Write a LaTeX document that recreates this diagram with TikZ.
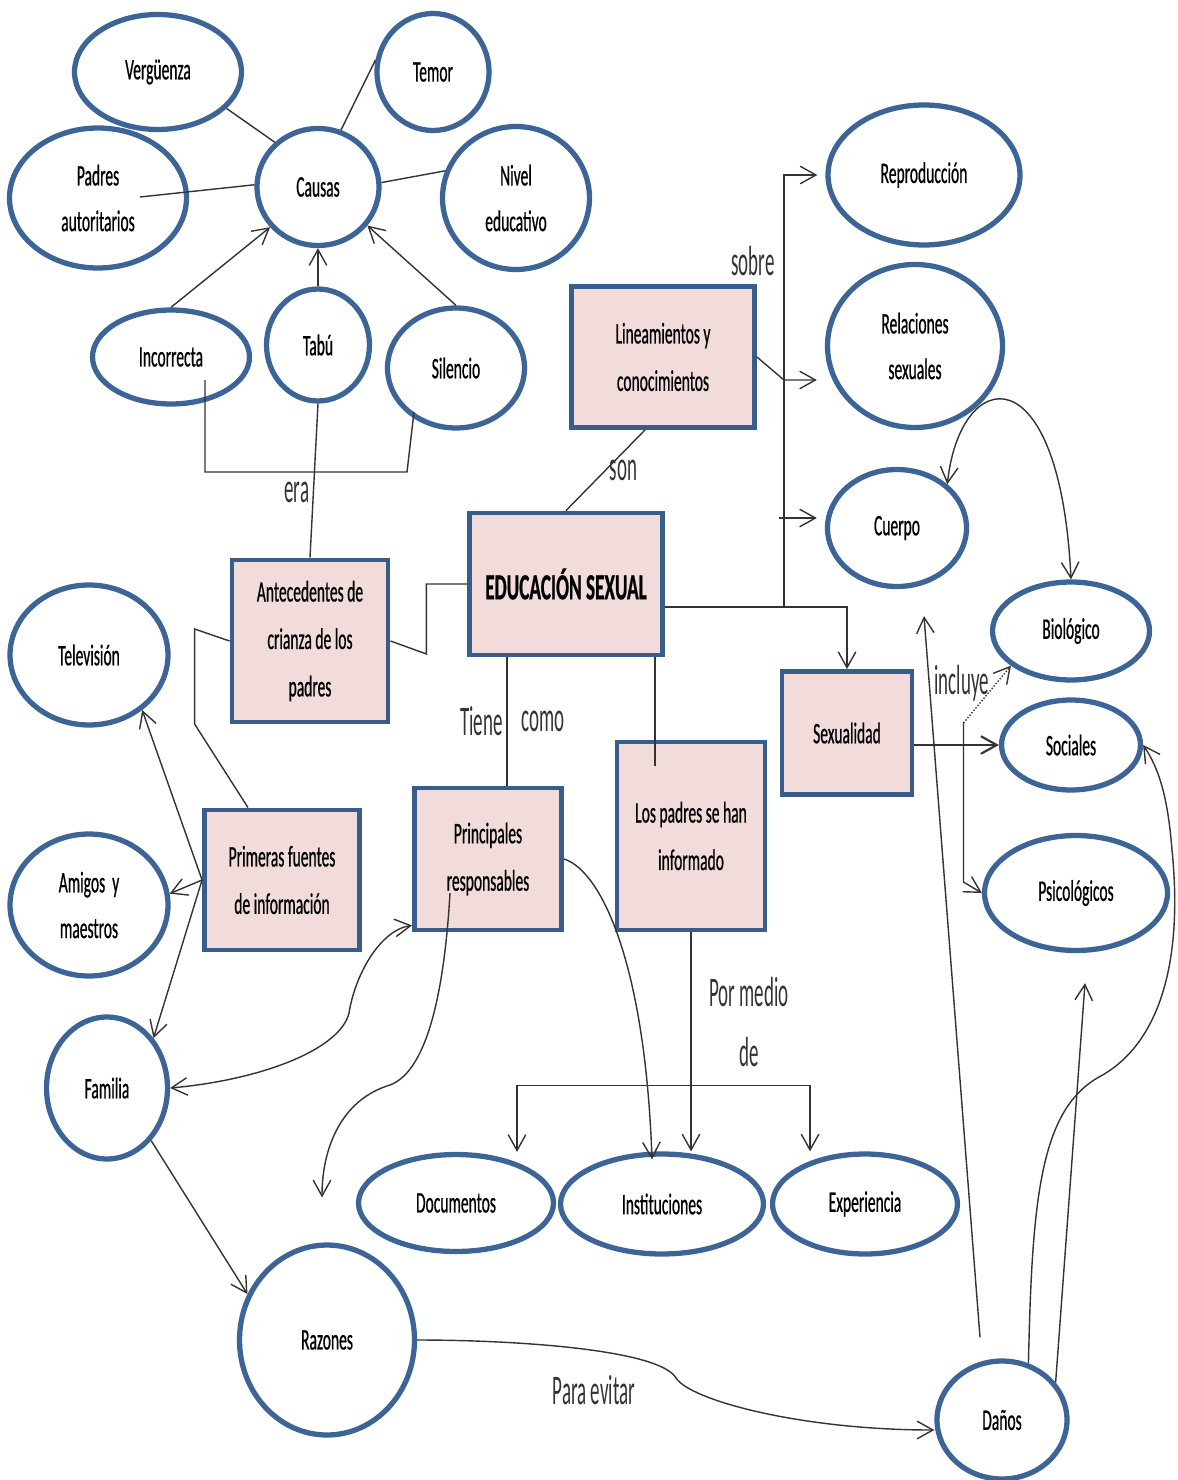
\documentclass[tikz,border=0pt]{standalone}
\usepackage{fontspec}
\setmainfont{Carlito}[FakeStretch=0.52, FakeBold=0.6]
\newfontfamily\lblfont{Carlito}[FakeStretch=0.45]
\usetikzlibrary{positioning, calc, shapes.geometric, arrows.meta}

\definecolor{elliblue}{RGB}{60,100,150}
\definecolor{cajablue}{RGB}{56,93,138}
\definecolor{cajapink}{RGB}{242,220,219}

\tikzset{
  elli/.style={ellipse, draw=elliblue, line width=3pt, fill=white, inner sep=0pt, align=center, font={\fontsize{17}{26}\selectfont}},
  caja/.style={rectangle, draw=cajablue, line width=2.8pt, fill=cajapink, inner sep=0pt, align=center, font={\fontsize{17}{27}\selectfont}},
  conn/.style={draw=black!80, line width=0.8pt},
  arr/.style={conn, ->},
  lbl/.style={font={\lblfont\fontsize{24}{34}\selectfont}, text=black!80, inner sep=2pt},
}

\begin{document}
\begin{tikzpicture}[x=0.02cm, y=-0.02cm, >={Straight Barb[length=9pt,width=10pt]}]
\useasboundingbox (0,0) rectangle (1177,1480);

% causas
\node[elli, minimum width=3.34cm, minimum height=2.3cm] (verg) at (158,72) {Vergüenza};
\node[elli, minimum width=2.24cm, minimum height=2.34cm] (temor) at (433,72) {Temor};
\node[elli, minimum width=3.54cm, minimum height=2.8cm] (padres) at (98,198) {Padres\\autoritarios};
\node[elli, minimum width=2.44cm, minimum height=2.34cm] (causas) at (318,187) {Causas};
\node[elli, minimum width=2.94cm, minimum height=2.86cm] (nivel) at (516,198) {Nivel\\educativo};
\node[elli, minimum width=3.14cm, minimum height=1.88cm] (incorr) at (171,357) {Incorrecta};
\node[elli, minimum width=2.06cm, minimum height=2.24cm] (tabu) at (318,345) {Tabú};
\node[elli, minimum width=2.74cm, minimum height=2.4cm] (silencio) at (456,368) {Silencio};

% sobre
\node[elli, minimum width=3.84cm, minimum height=2.8cm] (repro) at (924,175) {Reproducción};
\node[elli, minimum width=3.5cm, minimum height=3.26cm] (relac) at (915,346) {Relaciones\\sexuales};
\node[elli, minimum width=2.78cm, minimum height=2.34cm] (cuerpo) at (897,528) {Cuerpo};
\node[elli, minimum width=3.14cm, minimum height=1.96cm] (bio) at (1071,631) {Biológico};
\node[elli, minimum width=2.78cm, minimum height=1.8cm] (soc) at (1071,745) {Sociales};
\node[elli, minimum width=3.66cm, minimum height=2.3cm] (psico) at (1076,893) {Psicológicos};

% fuentes
\node[elli, minimum width=3.16cm, minimum height=2.8cm] (tele) at (89,655) {Televisión};
\node[elli, minimum width=3.16cm, minimum height=2.84cm] (amigos) at (89,905) {Amigos~ y\\maestros};
\node[elli, minimum width=2.42cm, minimum height=2.84cm] (familia) at (107,1088) {Familia};
\node[elli, minimum width=3.5cm, minimum height=3.8cm] (razones) at (327,1340) {Razones};
\node[elli, minimum width=3.9cm, minimum height=1.94cm] (docs) at (456,1203) {Documentos};
\node[elli, minimum width=4.06cm, minimum height=2cm] (inst) at (662,1204) {Instituciones};
\node[elli, minimum width=3.7cm, minimum height=2cm] (exper) at (865,1204) {Experiencia};
\node[elli, minimum width=2.6cm, minimum height=2.36cm] (danos) at (1002,1420) {Daños};

% cajas
\node[caja, minimum width=3.66cm, minimum height=2.82cm] (lin) at (663,357) {Lineamientos y\\conocimientos};
\node[caja, minimum width=3.86cm, minimum height=2.84cm, font={\bfseries\fontsize{21}{26}\selectfont}] (edu) at (566,584) {EDUCACIÓN SEXUAL};
\node[caja, minimum width=3.12cm, minimum height=3.24cm] (ante) at (310,641) {Antecedentes de\\crianza de los\\padres};
\node[caja, minimum width=3.1cm, minimum height=2.8cm] (prim) at (282,880) {Primeras fuentes\\de información};
\node[caja, minimum width=2.94cm, minimum height=2.84cm] (princ) at (488,859) {Principales\\responsables};
\node[caja, minimum width=2.96cm, minimum height=3.76cm] (lospad) at (691,836) {Los padres se han\\informado};
\node[caja, minimum width=2.6cm, minimum height=2.46cm] (sex) at (847,733) {Sexualidad};

\foreach \bx in {lin,edu,ante,prim,princ,lospad,sex}{
  \draw[cajablue, line width=2pt] ($(\bx.north west)+(0,3)$) -- ($(\bx.north east)+(0,3)$);
  \draw[cajablue, line width=2pt] ($(\bx.south west)+(0,-3)$) -- ($(\bx.south east)+(0,-3)$);
}

% causas
\draw[conn] (verg.-28) -- (causas.134);
\draw[conn] (temor.168) -- (causas.68);
\draw[conn] ($(padres)+(42,-1)$) -- (causas.178);
\draw[conn] (nivel.159) -- (causas.4);
\draw[arr] (incorr.north) -- (causas.220);
\draw[arr] (tabu.north) -- (causas.south);
\draw[arr] (silencio.north) -- (causas.-38);
\draw[conn] ($(incorr)+(34,23)$) |- ($(silencio)+(-49,104)$) -- ($(silencio)+(-42,44)$);
\draw[conn] (tabu.south) -- node[lbl, pos=0.58, left] {era} (ante.north);

% antecedentes
\draw[conn] (ante.east) -- ++(36,13) |- (edu.west);
\draw[conn] (ante.west) -- ++(-35,-12) -- ++(0,95) -- ($(prim.north)+(-34,0)$);
\draw[arr] (prim.west) -- (tele.-46);
\draw[arr] (prim.west) -- (amigos.8);
\draw[arr] (prim.west) -- (familia.47);

% principales
\draw[conn, <->] (familia.east) .. controls (260,1080) and (340,1050) .. (349,1013) .. controls (355,975) and (380,930) .. ($(princ.south west)+(0,-7)$);
\draw[arr] ($(princ)+(-38,34)$) .. controls (445,980) and (430,1070) .. (390,1085) .. controls (340,1100) and (322,1150) .. ($(razones.north)+(-5,-45)$);
\draw[arr] (princ.east) .. controls (600,870) and (645,960) .. ($(inst.north)+(-10,8)$);

% educacion sexual
\draw[conn] ($(edu.south)+(-59,0)$) coordinate (tc) -- (tc |- princ.north) node[lbl, midway, left] {Tiene} node[lbl, midway, right=6pt] {como};
\draw[conn] ($(edu.south)+(89,0)$) -- ($(lospad.north)+(-36,26)$);
\draw[conn] ($(lin.south)+(-18,0)$) -- node[lbl, midway, right] {son} (edu.north);
\draw[arr] ($(edu.east)+(0,23)$) -| (sex.north);
\draw[arr] ($(edu.east)+(119,23)$) |- node[lbl, pos=0.4, left=3pt] {sobre} ($(repro.west)+(-8,0)$);
\draw[arr] (lin.east) -- ++(27,23) -- ($(relac.west)+(-8,34)$);
\draw[arr] ($(cuerpo.west)+(-46,-10)$) -- ($(cuerpo.west)+(-8,-10)$);

% sexualidad
\draw[arr, line width=1.2pt] ($(sex.east)+(0,12)$) -- (soc.west);
\draw[arr] ($(sex.east)+(49,-10)$) -- ($(sex.east)+(49,149)$) -- (psico.west);
\draw[arr, densely dotted] ($(sex.east)+(49,-10)$) -- node[lbl, pos=0.7, left=2pt] {incluye} (bio.210);
\draw[conn, <->] (cuerpo.41) .. controls (960,365) and (1060,350) .. (bio.north);

% por medio de
\draw[arr] (lospad.south) -- node[lbl, pos=0.41, right=8pt, align=center] {Por medio\\de} (lospad.south |- inst.north);
\draw[conn, <->] ($(docs.north)+(61,0)$) |- ($(exper.north)+(-55,-66)$) -- ($(exper.north)+(-55,0)$);

% danos
\draw[arr] ($(danos.north)+(-22,-21)$) -- ($(cuerpo.south)+(27,27)$);
\draw[arr] (danos.65) .. controls (1032,1200) and (1040,1110) .. (1099,1077) .. controls (1150,1050) and (1185,980) .. (1172,850) .. controls (1168,800) and (1160,770) .. (soc.east);
\draw[arr] (danos.35) -- ($(psico.south)+(9,30)$);

% razones
\draw[arr] (familia.-50) -- (razones.150);
\draw[arr] (razones.east) .. controls (520,1340) and (660,1350) .. (676,1378) node[lbl, pos=0.55, below=12pt] {Para evitar} .. controls (690,1400) and (800,1430) .. ($(danos.west)+(0,10)$);

\end{tikzpicture}
\end{document}
